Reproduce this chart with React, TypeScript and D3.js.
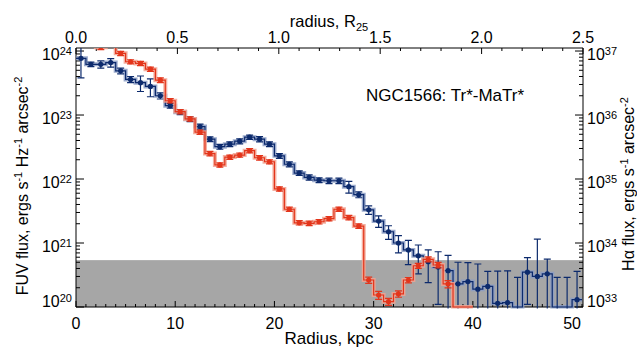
import React from "react";
import * as d3 from "d3";

// ---- data ----
const radiusKpc = [
  0.5, 1.5, 2.5, 3.5, 4.5, 5.5, 6.5, 7.5, 8.5, 9.5, 10.5, 11.5, 12.5, 13.5, 14.5, 15.5, 16.5,
  17.5, 18.5, 19.5, 20.5, 21.5, 22.5, 23.5, 24.5, 25.5, 26.5, 27.5, 28.5, 29.5, 30.5, 31.5,
  32.5, 33.5, 34.5, 35.5, 36.5, 37.5, 38.5, 39.5, 40.5, 41.5, 42.5, 43.5, 44.5, 45.5, 46.5,
  47.5, 48.5, 49.5, 50.5,
];

// FUV flux, ergs s^-1 Hz^-1 arcsec^-2
const fuvFlux = [
  7.7e23, 6.2e23, 6.2e23, 6.6e23, 4.9e23, 3.6e23, 3.2e23, 2.8e23, 2.0e23, 1.4e23, 1.1e23,
  8.6e22, 6.6e22, 4.2e22, 3.2e22, 3.5e22, 3.9e22, 4.5e22, 4.2e22, 3.5e22, 2.3e22, 1.7e22,
  1.24e22, 1.06e22, 9.6e21, 9.4e21, 9.4e21, 7.6e21, 5.7e21, 3.3e21, 2.2e21, 1.5e21, 1.0e21,
  7.8e20, 6.3e20, 5.1e20, 4.2e20, 3.7e20, 2.3e20, 2.5e20, 1.9e20, 2.1e20, 1.14e20, 1.17e20,
  6e19, 3.5e20, 3.0e20, 3.3e20, 6e19, 6e19, 1.3e20,
];
const fuvErr = [
  3.9e23, 0.5e23, 0.8e23, 1.0e23, 0.5e23, 0.4e23, 0.87e23, 0.87e23, 0.22e23, 0.12e23, 0.09e23,
  0.7e22, 0.6e22, 0.35e22, 0.28e22, 0.3e22, 0.35e22, 0.35e22, 0.4e22, 0.3e22, 0.2e22, 0.15e22,
  0.1e22, 0.1e22, 0.8e21, 0.9e21, 0.9e21, 1.6e21, 0.6e21, 0.5e21, 0.45e21, 0.36e21, 0.3e21,
  3.2e20, 3.0e20, 2.7e20, 3.1e20, 2.7e20, 2.7e20, 2.45e20, 2.8e20, 1.5e20, 2.5e20, 2.5e20,
  2.3e20, 2.4e20, 8.5e20, 2.3e20, 2.3e20, 2.3e20, 2.3e20,
];

// H-alpha flux, ergs s^-1 arcsec^-2
const haFlux = [
  2.5e37, 2.0e37, 1.15e37, 1.3e37, 9.2e36, 6.8e36, 6.4e36, 5.2e36, 3.5e36, 1.67e36, 1.13e36,
  8.7e35, 5.4e35, 2.5e35, 1.66e35, 2.2e35, 2.37e35, 2.77e35, 2.15e35, 1.86e35, 7.0e34, 3.37e34,
  2.07e34, 2.03e34, 2.15e34, 2.4e34, 3.37e34, 2.5e34, 1.84e34, 2.64e33, 1.54e33, 1.21e33,
  1.6e33, 2.64e33, 4.41e33, 5.56e33, 4.53e33, 2.29e33, 1.0e33, 1.0e33,
];
const haErr = [
  2.5e36, 2.0e36, 1.0e36, 1.0e36, 0.7e36, 0.5e36, 0.5e36, 0.4e36, 0.3e36, 0.13e36, 0.09e36,
  0.7e35, 0.4e35, 0.2e35, 0.13e35, 0.17e35, 0.18e35, 0.21e35, 0.17e35, 0.14e35, 0.55e34,
  0.26e34, 0.16e34, 0.16e34, 0.17e34, 0.19e34, 0.26e34, 0.2e34, 0.15e34, 0.3e33, 0.22e33,
  0.15e33, 0.18e33, 0.25e33, 0.4e33, 0.5e33, 0.45e33, 0.3e33, 0, 0,
];

const sensitivityLimit = 5.4e20; // grey band top (FUV units)
const r25Kpc = 20.44;
const xTicksKpc = [0, 10, 20, 30, 40, 50];
const xTicksR25 = [0, 0.5, 1.0, 1.5, 2.0, 2.5];
const leftExps = [20, 21, 22, 23, 24];
const rightExps = [33, 34, 35, 36, 37];
const annotation = "NGC1566: Tr*-MaTr*";

// ---- layout ----
const W = 637;
const H = 348;
const L = 76;
const R = 583;
const T = 48;
const B = 307;
const FONT = "'Liberation Sans', Arial, Helvetica, sans-serif";
const BLUE = "#0c2a6c";
const BLUE_LIGHT = "#8b9cc4";
const RED = "#e3351b";
const RED_LIGHT = "#f2a290";
const FS = 16;
const SUP = 11;

export default function App() {
  const x = d3.scaleLinear().domain([0, 2.5 * r25Kpc]).range([L, R]);
  const xR25 = d3.scaleLinear().domain([0, 2.5]).range([L, R]);
  const yL = d3.scaleLog().domain([1e20, 1.115e24]).range([B, T]);
  const yR = d3.scaleLog().domain([1e33, 1.115e37]).range([B, T]);
  const binW = radiusKpc[1] - radiusKpc[0];

  const stepPath = (vals: number[], y: any) => {
    const lo = y.domain()[0];
    const pts: [number, number][] = vals.map((v, i) => [
      x(radiusKpc[i] - binW / 2),
      y(Math.max(v, lo)),
    ]);
    const last = vals.length - 1;
    pts.push([x(radiusKpc[last] + binW / 2), y(Math.max(vals[last], lo))]);
    return d3.line().curve(d3.curveStepAfter)(pts) || "";
  };

  const series = (vals: number[], errs: number[], y: any, color: string, light: string, key: string) => {
    const [lo, hi] = y.domain();
    const path = stepPath(vals, y);
    return (
      <g key={key}>
        <path d={path} fill="none" stroke={light} strokeWidth={4} strokeOpacity={0.85} />
        <path d={path} fill="none" stroke={color} strokeWidth={1.2} />
        {vals.map((v, i) => {
          const e = errs[i];
          if (!e) return null;
          const cx = x(radiusKpc[i]);
          const up = v + e;
          const dn = v - e;
          const y1 = y(Math.min(up, hi * 1.5));
          const y2 = dn > lo ? y(dn) : B + 2;
          return (
            <g key={"e" + i} stroke={color} strokeWidth={1.2}>
              <line x1={cx} x2={cx} y1={y1} y2={y2} />
              {up <= hi && <line x1={cx - 3.5} x2={cx + 3.5} y1={y1} y2={y1} />}
              {dn > lo && <line x1={cx - 3.5} x2={cx + 3.5} y1={y2} y2={y2} />}
            </g>
          );
        })}
        {vals.map((v, i) =>
          v > lo ? <circle key={"p" + i} cx={x(radiusKpc[i])} cy={y(v)} r={2.6} fill={color} /> : null
        )}
      </g>
    );
  };

  const logTicks = (scale: any) =>
    scale.ticks(40).filter((t: number) => t >= scale.domain()[0] && t <= scale.domain()[1]);
  const isMajor = (t: number) => Math.abs(Math.log10(t) - Math.round(Math.log10(t))) < 1e-6;

  const minorKpc = d3.range(0, 51.1, 1);
  const minorR25 = d3.range(0, 2.5001, 0.1);

  const labelBase = (yy: number) => Math.min(yy + 8.5, B);

  return (
    <svg width={W} height={H} style={{ position: "absolute", left: 0, top: 0, fontFamily: FONT }}>
      <defs>
        <clipPath id="plot">
          <rect x={L} y={T} width={R - L} height={B - T + 1.5} />
        </clipPath>
      </defs>
      <rect x={0} y={0} width={W} height={H} fill="#fff" />
      {/* grey sensitivity band */}
      <rect x={L} y={yL(sensitivityLimit)} width={R - L} height={B - yL(sensitivityLimit)} fill="#a6a6a6" />

      {/* axes frame and ticks */}
      <g stroke="#000" strokeWidth={1}>
        <line x1={L} x2={R} y1={B} y2={B} />
        <line x1={L} x2={R} y1={T} y2={T} />
        <line x1={L} x2={L} y1={T} y2={B} />
        <line x1={R} x2={R} y1={T} y2={B} />
        {minorKpc.map((t) => {
          const maj = t % 10 === 0;
          return <line key={"bk" + t} x1={x(t)} x2={x(t)} y1={B} y2={B - (maj ? 6 : 3)} />;
        })}
        {minorR25.map((t, i) => {
          const maj = i % 5 === 0;
          return <line key={"tk" + i} x1={xR25(t)} x2={xR25(t)} y1={T} y2={T + (maj ? 6 : 3)} />;
        })}
        {logTicks(yL).map((t: number) => (
          <line key={"lk" + t} x1={L} x2={L + (isMajor(t) ? 8 : 4)} y1={yL(t)} y2={yL(t)} />
        ))}
        {logTicks(yR).map((t: number) => (
          <line key={"rk" + t} x1={R} x2={R - (isMajor(t) ? 8 : 4)} y1={yR(t)} y2={yR(t)} />
        ))}
      </g>

      {/* data */}
      <g clipPath="url(#plot)">
        {series(fuvFlux, fuvErr, yL, BLUE, BLUE_LIGHT, "fuv")}
        {series(haFlux, haErr, yR, RED, RED_LIGHT, "ha")}
      </g>

      {/* tick labels */}
      <g fontSize={FS} fill="#000">
        {xTicksKpc.map((t) => (
          <text key={"bl" + t} x={x(t)} y={329} textAnchor="middle">
            {t}
          </text>
        ))}
        {xTicksR25.map((t) => (
          <text key={"tl" + t} x={xR25(t)} y={43} textAnchor="middle">
            {d3.format(".1f")(t)}
          </text>
        ))}
        {leftExps.map((e) => (
          <text key={"ll" + e} x={72} y={labelBase(yL(Math.pow(10, e)))} textAnchor="end">
            10
            <tspan dy={-5} fontSize={SUP}>
              {e}
            </tspan>
          </text>
        ))}
        {rightExps.map((e) => (
          <text key={"rl" + e} x={587} y={labelBase(yR(Math.pow(10, e)))} textAnchor="start">
            10
            <tspan dy={-5} fontSize={SUP}>
              {e}
            </tspan>
          </text>
        ))}
      </g>

      {/* axis titles */}
      <g fontSize={FS} fill="#000">
        <text x={329} y={27} textAnchor="middle" fontSize={16.5}>
          radius, R
          <tspan dy={4} fontSize={SUP}>
            25
          </tspan>
        </text>
        <text x={329} y={344} textAnchor="middle" fontSize={17}>
          Radius, kpc
        </text>
        <text transform="translate(28,186) rotate(-90)" textAnchor="middle">
          FUV flux, ergs s
          <tspan dy={-6} fontSize={SUP}>
            -1
          </tspan>
          <tspan dy={6}> Hz</tspan>
          <tspan dy={-6} fontSize={SUP}>
            -1
          </tspan>
          <tspan dy={6}> arcsec</tspan>
          <tspan dy={-6} fontSize={SUP}>
            -2
          </tspan>
        </text>
        <text transform="translate(634,184) rotate(-90)" textAnchor="middle">
          Hα flux, ergs s
          <tspan dy={-6} fontSize={SUP}>
            -1
          </tspan>
          <tspan dy={6}> arcsec</tspan>
          <tspan dy={-6} fontSize={SUP}>
            -2
          </tspan>
        </text>
        <text x={366} y={101} fontSize={17}>
          {annotation}
        </text>
      </g>
    </svg>
  );
}
